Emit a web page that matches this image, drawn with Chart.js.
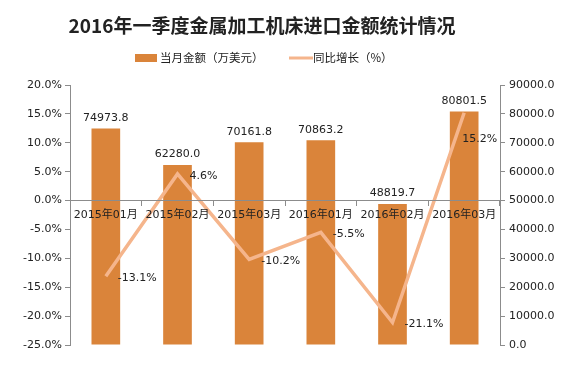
<!DOCTYPE html>
<html>
<head>
<meta charset="utf-8">
<script src="https://cdn.jsdelivr.net/npm/chart.js@4"></script>
<style>
  html, body { margin: 0; padding: 0; background: #fff; }
  #wrap { width: 576px; height: 385px; }
</style>
</head>
<body>
<div id="wrap"><canvas id="chart" width="576" height="385"></canvas></div>
<script>
const title = '2016年一季度金属加工机床进口金额统计情况';
const months = ['2015年01月', '2015年02月', '2015年03月', '2016年01月', '2016年02月', '2016年03月'];
const amount = [74973.8, 62280.0, 70161.8, 70863.2, 48819.7, 80801.5];
const growth = [-13.1, 4.6, -10.2, -5.5, -21.1, 15.2];
const amountLabel = '当月金额（万美元）';
const growthLabel = '同比增长（%）';

const barColor = '#DA843A';
const lineColor = '#F5B58C';
const axisColor = '#8C8C8C';
const textColor = '#222';
const font = "'DejaVu Sans', 'Noto Sans CJK SC', sans-serif";

// value labels + title + legend
const extras = {
  id: 'extras',
  afterDatasetsDraw(chart) {
    const ctx = chart.ctx;
    ctx.save();
    ctx.fillStyle = textColor;
    ctx.font = '11px ' + font;

    const bars = chart.getDatasetMeta(0).data;
    ctx.textAlign = 'center';
    ctx.textBaseline = 'bottom';
    bars.forEach((b, i) => {
      ctx.fillText(amount[i].toFixed(1), b.x, b.y - 5);
    });

    const pts = chart.getDatasetMeta(1).data;
    ctx.textAlign = 'left';
    ctx.textBaseline = 'middle';
    pts.forEach((p, i) => {
      const txt = growth[i].toFixed(1) + '%';
      if (i === pts.length - 1) ctx.fillText(txt, p.x - 2, p.y + 26);
      else ctx.fillText(txt, p.x + 12, p.y + 2);
    });
    ctx.restore();
  },
  afterDraw(chart) {
    const ctx = chart.ctx;
    ctx.save();
    ctx.fillStyle = textColor;
    ctx.textAlign = 'center';
    ctx.textBaseline = 'middle';
    ctx.font = "bold 19px 'Noto Sans CJK SC', sans-serif";
    ctx.fillText(title, 262, 26);

    ctx.font = "11.5px 'Noto Sans CJK SC', sans-serif";
    ctx.textAlign = 'left';
    ctx.fillStyle = barColor;
    ctx.fillRect(135, 54, 22, 8);
    ctx.fillStyle = textColor;
    ctx.fillText(amountLabel, 160, 58);

    ctx.strokeStyle = lineColor;
    ctx.lineWidth = 3;
    ctx.beginPath();
    ctx.moveTo(289, 58);
    ctx.lineTo(313, 58);
    ctx.stroke();
    ctx.fillText(growthLabel, 313, 58);
    ctx.restore();
  }
};

new Chart(document.getElementById('chart'), {
  data: {
    labels: months,
    datasets: [
      {
        type: 'bar',
        label: amountLabel,
        data: amount,
        yAxisID: 'y1',
        backgroundColor: barColor,
        barPercentage: 0.4,
        categoryPercentage: 1,
        order: 1
      },
      {
        type: 'line',
        label: growthLabel,
        data: growth,
        yAxisID: 'y',
        borderColor: lineColor,
        borderWidth: 3.5,
        pointRadius: 0,
        tension: 0,
        order: 0
      }
    ]
  },
  options: {
    responsive: false,
    animation: false,
    layout: { padding: { top: 85, bottom: 40, left: 0, right: 0 } },
    plugins: {
      legend: { display: false },
      title: { display: false },
      tooltip: { enabled: false }
    },
    scales: {
      x: {
        position: { y: 0 },
        offset: true,
        grid: { offset: true, drawOnChartArea: false, tickLength: 5, color: axisColor, z: 1 },
        border: { color: axisColor, z: 1 },
        ticks: { z: 1, color: textColor, font: { family: font, size: 11 }, padding: 3, maxRotation: 0 }
      },
      y: {
        position: 'left',
        min: -25,
        max: 20,
        afterFit: s => { s.width = 70; },
        afterBuildTicks: s => {
          s.ticks = [];
          for (let v = -25; v <= 20; v += 5) s.ticks.push({ value: v });
        },
        grid: { drawOnChartArea: false, tickLength: 5, color: axisColor },
        border: { color: axisColor },
        ticks: {
          color: textColor,
          font: { family: font, size: 11 },
          padding: 3,
          callback: v => v.toFixed(1) + '%'
        }
      },
      y1: {
        position: 'right',
        min: 0,
        max: 90000,
        afterFit: s => { s.width = 76; },
        afterBuildTicks: s => {
          s.ticks = [];
          for (let v = 0; v <= 90000; v += 10000) s.ticks.push({ value: v });
        },
        grid: { drawOnChartArea: false, tickLength: 5, color: axisColor },
        border: { color: axisColor },
        ticks: {
          color: textColor,
          font: { family: font, size: 11 },
          padding: 4,
          callback: v => v.toFixed(1)
        }
      }
    }
  },
  plugins: [extras]
});
</script>
</body>
</html>
